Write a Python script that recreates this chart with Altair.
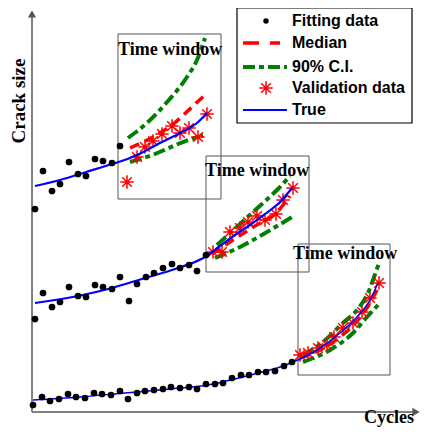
import altair as alt
import pandas as pd

# All values (x = cycles, y = crack size; y grows downward).
# ---------------- curve 1 (top) ----------------
fit1_x = [35, 43, 52, 60, 69, 78, 86, 95, 103, 112, 120]
fit1_y = [209, 171, 191, 184, 162, 174, 176, 159, 161, 163, 146]
true1_x = [35, 60, 86, 112, 130, 137, 160, 180, 197, 207]
true1_y = [186, 180, 172, 164, 158, 155, 143, 133, 123, 113]
val1_x = [127, 137, 145, 153, 162, 172, 180, 189, 198, 207]
val1_y = [182, 157, 147, 141, 134, 126, 133, 128, 137, 114]
med1_x = [130, 153, 172, 192, 205]
med1_y = [148, 137, 125, 107, 95]
ciu1_x = [128, 148, 168, 187, 197, 205]
ciu1_y = [138, 122, 101, 77, 60, 38]
cil1_x = [130, 155, 178, 203]
cil1_y = [162, 154, 144, 135]

# ---------------- curve 2 (middle) ----------------
fit2_x = [35, 43, 52, 60, 69, 78, 86, 95, 103, 112, 120, 129, 137, 146, 154, 163, 172, 180, 189, 197, 206]
fit2_y = [319, 293, 307, 302, 287, 296, 297, 285, 287, 289, 277, 301, 284, 277, 273, 268, 264, 268, 265, 271, 255]
true2_x = [35, 78, 112, 145, 175, 205, 220, 235, 250, 265, 280, 292]
true2_y = [303, 296, 288, 278, 269, 257, 246, 235, 225, 214, 202, 188]
val2_x = [213, 222, 230, 240, 248, 257, 265, 276, 283, 293]
val2_y = [252, 252, 232, 228, 222, 216, 220, 214, 200, 188]
med2_x = [212, 233, 255, 277, 290]
med2_y = [254, 240, 226, 212, 196]
ciu2_x = [217, 240, 263, 278, 290]
ciu2_y = [245, 224, 203, 189, 176]
cil2_x = [215, 240, 267, 292]
cil2_y = [258, 247, 232, 217]

# ---------------- curve 3 (bottom) ----------------
fit3_x = [33, 42, 50, 59, 68, 76, 85, 94, 102, 111, 120, 128, 137, 145, 154, 163, 171, 180,
          189, 197, 206, 215, 223, 232, 241, 249, 258, 266, 275, 284, 292]
fit3_y = [405, 397, 401, 399, 394, 397, 398, 393, 394, 395, 391, 399, 393, 391, 390, 389, 387, 388,
          387, 389, 384, 384, 383, 378, 375, 375, 372, 372, 371, 366, 362]
true3_x = [33, 80, 125, 170, 208, 235, 258, 280, 293, 317, 340, 357, 370, 378]
true3_y = [400, 397, 393, 389, 385, 379, 373, 367, 362, 350, 333, 317, 300, 283]
val3_x = [300, 308, 318, 327, 334, 343, 353, 362, 370, 379]
val3_y = [355, 353, 348, 345, 337, 328, 323, 312, 298, 283]
med3_x = [300, 320, 340, 358, 370, 378]
med3_y = [358, 350, 337, 320, 303, 288]
ciu3_x = [303, 323, 343, 357, 368, 373, 379]
ciu3_y = [355, 342, 323, 310, 293, 280, 263]
cil3_x = [303, 330, 353, 367, 378]
cil3_y = [362, 350, 333, 317, 305]

# ---------------- time windows ----------------
win_x1 = [118, 206, 298]
win_x2 = [221, 309, 390]
win_y1 = [34, 156, 244]
win_y2 = [199, 272, 375]
win_label_x = [118, 205, 293]
win_label_y = [50, 171, 254]

# ---------------- legend ----------------
legend_labels = ["Fitting data", "Median", "90% C.I.", "Validation data", "True"]
legend_y = [21, 43, 67, 88, 110]


def pts(xs, ys, s="a"):
    return pd.DataFrame({"x": xs, "y": ys, "s": s})


def lines(*pairs):
    frames = []
    for i, (xs, ys) in enumerate(pairs):
        frames.append(pd.DataFrame({"x": xs, "y": ys, "s": f"c{i}", "o": range(len(xs))}))
    return pd.concat(frames, ignore_index=True)


X = alt.X("x:Q", scale=alt.Scale(domain=[8, 422], nice=False, zero=False), axis=None)
Y = alt.Y("y:Q", scale=alt.Scale(domain=[8, 428], nice=False, zero=False, reverse=True), axis=None)
X2 = alt.X2("x2:Q")
Y2 = alt.Y2("y2:Q")

STAR = "M-1,0L1,0M0,-1L0,1M-0.72,-0.72L0.72,0.72M-0.72,0.72L0.72,-0.72"

# axes
axes_df = pd.DataFrame({"x": [32, 32], "y": [14, 412], "x2": [32, 414], "y2": [412, 412]})
axes = alt.Chart(axes_df).mark_rule(color="#808080", strokeWidth=2).encode(x=X, y=Y, x2=X2, y2=Y2)
arrow_up = alt.Chart(pd.DataFrame({"x": [32], "y": [14]})).mark_point(
    shape="triangle-up", filled=True, color="#555555", size=70, opacity=1).encode(x=X, y=Y)
arrow_right = alt.Chart(pd.DataFrame({"x": [416], "y": [412]})).mark_point(
    shape="triangle-right", filled=True, color="#555555", size=70, opacity=1).encode(x=X, y=Y)

# windows
win_df = pd.DataFrame({"x": win_x1, "x2": win_x2, "y": win_y1, "y2": win_y2})
windows = alt.Chart(win_df).mark_rect(fillOpacity=0, stroke="#555555", strokeWidth=1).encode(
    x=X, x2=X2, y=Y, y2=Y2)
win_text = alt.Chart(pd.DataFrame({"x": win_label_x, "y": win_label_y, "t": ["Time window"] * 3})).mark_text(
    align="left", baseline="middle", font="Liberation Serif", fontWeight="bold", fontSize=18, color="black"
).encode(x=X, y=Y, text="t:N")

# curves
ci = alt.Chart(lines((ciu1_x, ciu1_y), (cil1_x, cil1_y), (ciu2_x, ciu2_y), (cil2_x, cil2_y),
                     (ciu3_x, ciu3_y), (cil3_x, cil3_y))).mark_line(
    color="#008000", strokeWidth=4, strokeDash=[12, 4, 5, 4], interpolate="monotone").encode(
    x=X, y=Y, detail="s:N", order="o:Q")
med = alt.Chart(lines((med1_x, med1_y), (med2_x, med2_y), (med3_x, med3_y))).mark_line(
    color="#ff0000", strokeWidth=3.5, strokeDash=[10, 6], interpolate="monotone").encode(
    x=X, y=Y, detail="s:N", order="o:Q")
val = alt.Chart(pd.concat([pts(val1_x, val1_y), pts(val2_x, val2_y), pts(val3_x, val3_y)])).mark_point(
    shape=STAR, filled=False, stroke="#ff0000", strokeWidth=1.5, size=180, opacity=1).encode(x=X, y=Y)
true12 = alt.Chart(lines((true1_x, true1_y), (true2_x, true2_y))).mark_line(
    color="#0000ff", strokeWidth=2.2, interpolate="monotone").encode(x=X, y=Y, detail="s:N", order="o:Q")
true3 = alt.Chart(lines((true3_x, true3_y))).mark_line(
    color="#0000ff", strokeWidth=1.5, interpolate="monotone").encode(x=X, y=Y, detail="s:N", order="o:Q")
fit = alt.Chart(pd.concat([pts(fit1_x, fit1_y), pts(fit2_x, fit2_y), pts(fit3_x, fit3_y)])).mark_circle(
    color="black", size=45, opacity=1).encode(x=X, y=Y)

# axis titles
ytitle = alt.Chart(pd.DataFrame({"x": [19], "y": [101], "t": ["Crack size"]})).mark_text(
    angle=270, align="center", baseline="middle", font="Liberation Serif", fontWeight="bold",
    fontSize=19, color="black").encode(x=X, y=Y, text="t:N")
xtitle = alt.Chart(pd.DataFrame({"x": [389], "y": [418], "t": ["Cycles"]})).mark_text(
    align="center", baseline="middle", font="Liberation Serif", fontWeight="bold",
    fontSize=18, color="black").encode(x=X, y=Y, text="t:N")

# legend
leg_box = alt.Chart(pd.DataFrame({"x": [237], "x2": [412], "y": [8], "y2": [123]})).mark_rect(
    fill="white", stroke="black", strokeWidth=1.2).encode(x=X, x2=X2, y=Y, y2=Y2)
leg_text = alt.Chart(pd.DataFrame({"x": [292] * 5, "y": legend_y, "t": legend_labels})).mark_text(
    align="left", baseline="middle", font="Liberation Sans", fontWeight="bold", fontSize=16, color="black"
).encode(x=X, y=Y, text="t:N")
leg_dot = alt.Chart(pd.DataFrame({"x": [266], "y": [legend_y[0]]})).mark_circle(
    color="black", size=30, opacity=1).encode(x=X, y=Y)
leg_med = alt.Chart(pd.DataFrame({"x": [243, 280], "y": [legend_y[1]] * 2})).mark_line(
    color="#ff0000", strokeWidth=3.5, strokeDash=[16, 11]).encode(x=X, y=Y)
leg_ci = alt.Chart(pd.DataFrame({"x": [243, 287], "y": [legend_y[2]] * 2})).mark_line(
    color="#008000", strokeWidth=4, strokeDash=[12, 4, 5, 4]).encode(x=X, y=Y)
leg_star = alt.Chart(pd.DataFrame({"x": [266], "y": [legend_y[3]]})).mark_point(
    shape=STAR, filled=False, stroke="#ff0000", strokeWidth=1.5, size=180, opacity=1).encode(x=X, y=Y)
leg_true = alt.Chart(pd.DataFrame({"x": [243, 287], "y": [legend_y[4]] * 2})).mark_line(
    color="#0000ff", strokeWidth=2).encode(x=X, y=Y)

chart = alt.layer(
    axes, arrow_up, arrow_right, windows, ci, med, val, true12, true3, fit, win_text,
    ytitle, xtitle, leg_box, leg_text, leg_dot, leg_med, leg_ci, leg_star, leg_true
).properties(width=414, height=420, padding=0, autosize="none", background="white").configure_view(stroke=None)

chart.save("out.html", embed_options={"renderer": "svg", "actions": False})
